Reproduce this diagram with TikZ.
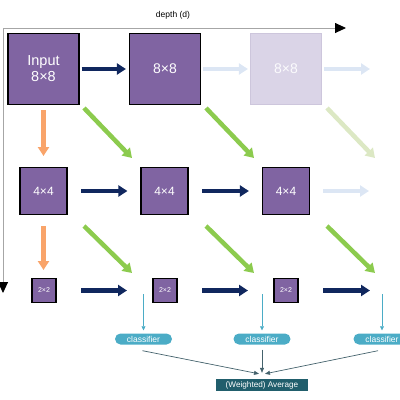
\documentclass[tikz,border=0pt]{standalone}
\usepackage{fontspec}
\setmainfont{Liberation Sans}
\usetikzlibrary{arrows.meta}
\definecolor{boxpurple}{HTML}{8064A2}
\definecolor{fadepurple}{HTML}{DAD4E7}
\definecolor{fadeedge}{HTML}{CDC6DC}
\definecolor{navy}{HTML}{10275E}
\definecolor{lightblue}{HTML}{DCE6F4}
\definecolor{orangea}{HTML}{F9A46A}
\definecolor{greena}{HTML}{8CCB4E}
\definecolor{fadegreen}{HTML}{DCE8C4}
\definecolor{classcol}{HTML}{4BACC6}
\definecolor{avgcol}{HTML}{215E6C}
\definecolor{axisgray}{HTML}{A6A6A6}
\definecolor{joinarrow}{HTML}{44626C}
\begin{document}
\begin{tikzpicture}[x=1pt,y=-1pt,
  block/.style={draw=black,line width=1.2pt,fill=boxpurple,text=white,inner sep=0pt,align=center},
  fadeblock/.style={draw=fadeedge,line width=1.2pt,fill=fadepurple,text=white!90!fadepurple,inner sep=0pt},
  fat/.style={line width=4.5pt,-{Triangle[width=11pt,length=9pt]}},
  navyarrow/.style={fat,draw=navy},
  lightarrow/.style={fat,draw=lightblue},
  orangearrow/.style={fat,draw=orangea},
  greenarrow/.style={fat,draw=greena},
  fadegreenarrow/.style={fat,draw=fadegreen},
  classbox/.style={fill=classcol,text=white,rounded corners=5.5pt,minimum width=57pt,minimum height=11pt,inner sep=0pt,font=\fontsize{8.5}{9}\selectfont},
  thinarrow/.style={draw=classcol,line width=0.7pt,-{Triangle[width=4pt,length=4pt]}},
  joinstyle/.style={draw=joinarrow,line width=0.7pt,-{Triangle[width=4pt,length=5pt]}},
  axis/.style={draw=axisgray,line width=0.9pt,{Triangle[width=10pt,length=11pt,color=black,fill=black]}-{Triangle[width=10pt,length=11pt,color=black,fill=black]}}
]
\useasboundingbox (0,0) rectangle (400,400);

% axes
\coordinate (yend) at (3,293);
\coordinate (orig) at (3,28);
\coordinate (xend) at (346,28);
\draw[axis] (yend) -- (orig) -- (xend);
\node[font=\fontsize{8.5}{10}\selectfont] (depth) at (173,15) {depth (d)};

% row 1
\node[block,minimum size=71pt,font=\fontsize{14.5}{16}\selectfont] (a1) at (43.5,69) {Input\\8×8};
\node[block,minimum size=71pt,font=\fontsize{14}{16}\selectfont] (a2) at (165,69) {8×8};
\node[fadeblock,minimum size=71pt,font=\fontsize{14}{16}\selectfont] (a3) at (286,69) {8×8};
\coordinate (a4) at (370,69);

% row 2
\node[block,minimum size=47pt,font=\fontsize{12}{14}\selectfont] (b1) at (43.5,191) {4×4};
\node[block,minimum size=47pt,font=\fontsize{12}{14}\selectfont] (b2) at (164.5,191) {4×4};
\node[block,minimum size=47pt,font=\fontsize{12}{14}\selectfont] (b3) at (286,191) {4×4};
\coordinate (b4) at (369,191);

% row 3
\node[block,minimum size=24pt,font=\fontsize{7}{8}\selectfont] (c1) at (44,290.5) {2×2};
\node[block,minimum size=24pt,font=\fontsize{7}{8}\selectfont] (c2) at (165,290.5) {2×2};
\node[block,minimum size=24pt,font=\fontsize{7}{8}\selectfont] (c3) at (286,290.5) {2×2};
\coordinate (c4) at (370,290.5);

% horizontal arrows
\draw[navyarrow] ([xshift=2pt]a1.east) -- ([xshift=-3pt]a2.west);
\draw[lightarrow] ([xshift=2pt]a2.east) -- ([xshift=-2pt]a3.west);
\draw[lightarrow] ([xshift=2pt]a3.east) -- (a4);
\draw[navyarrow] (81,191) -- ([xshift=-13pt]b2.west);
\draw[navyarrow] (202,191) -- ([xshift=-13pt]b3.west);
\draw[lightarrow] (323,191) -- (b4);
\draw[navyarrow] (81,290.5) -- (127,290.5);
\draw[navyarrow] (202,290.5) -- (248,290.5);
\draw[navyarrow] (323,290.5) -- (c4);

% orange arrows
\draw[orangearrow] (43.5,110) -- (43.5,156);
\draw[orangearrow] (43.5,226) -- (43.5,270);

% green arrows
\draw[greenarrow] (84,108) -- (132,158);
\draw[greenarrow] (206,108) -- (254,158);
\draw[fadegreenarrow] (327,108) -- (375,158);
\draw[greenarrow] (84,226) -- (132,273);
\draw[greenarrow] (206,226) -- (254,273);
\draw[greenarrow] (327,226) -- (375,273);

% classifiers
\node[classbox] (k1) at (143.5,339) {classifier};
\node[classbox] (k2) at (262,339) {classifier};
\node[classbox] (k3) at (382,339) {classifier};
\coordinate (t1) at (143.5,294);
\coordinate (t2) at (262,294);
\coordinate (t3) at (382,294);
\draw[thinarrow] (t1) -- ([yshift=3pt]k1.north);
\draw[thinarrow] (t2) -- ([yshift=3pt]k2.north);
\draw[thinarrow] (t3) -- ([yshift=3pt]k3.north);

% average
\node[fill=avgcol,text=white,minimum width=92pt,minimum height=12pt,inner sep=0pt,font=\fontsize{8.2}{9}\selectfont] (avg) at (262,385) {(Weighted) Average};
\draw[joinstyle] ([xshift=-1pt,yshift=-6pt]k1.south) -- ([xshift=-3pt,yshift=5pt]avg.north);
\draw[joinstyle] ([yshift=-5pt]k2.south) -- ([yshift=6pt]avg.north);
\draw[joinstyle] ([xshift=-4pt,yshift=-6pt]k3.south) -- ([xshift=3pt,yshift=5pt]avg.north);
\end{tikzpicture}
\end{document}
